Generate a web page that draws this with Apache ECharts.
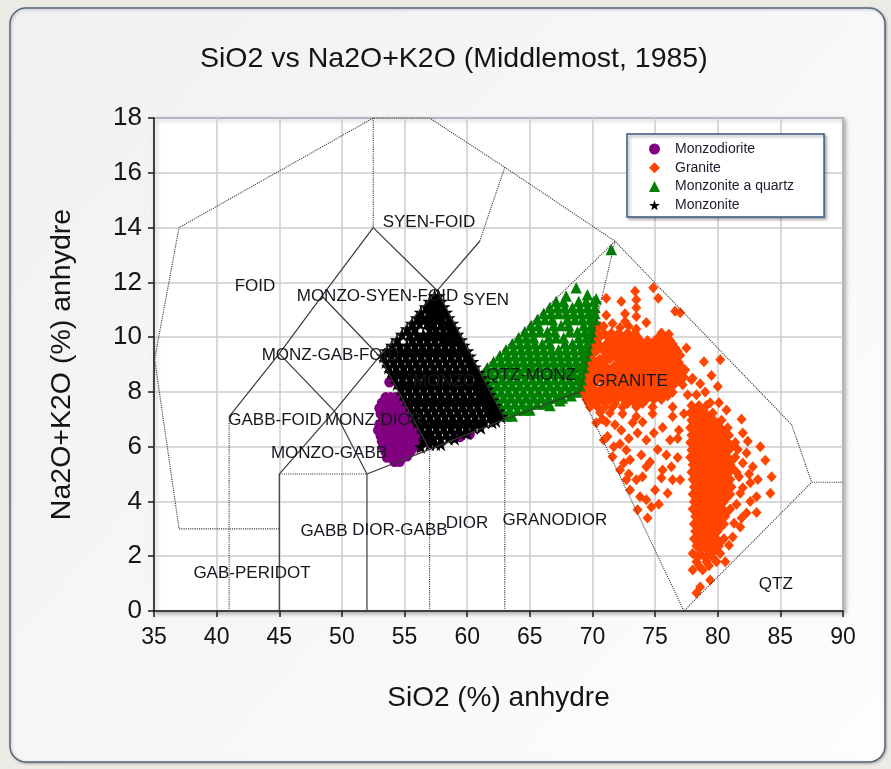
<!DOCTYPE html>
<html>
<head>
<meta charset="utf-8">
<title>TAS Middlemost 1985</title>
<script src="https://cdn.jsdelivr.net/npm/echarts/dist/echarts.min.js"></script>
<style>
  html, body { margin: 0; padding: 0; background: #ecebe5; }
  #chart { width: 891px; height: 769px; }
</style>
</head>
<body>
<div id="chart"></div>
<script>
// ---- Axis ticks ----
const xTicks = [35, 40, 45, 50, 55, 60, 65, 70, 75, 80, 85, 90];
const yTicks = [0, 2, 4, 6, 8, 10, 12, 14, 16, 18];

// ---- Field boundaries (SiO2, Na2O+K2O) ----
const dottedBoundaries = [
  [[45,3],[37,3],[35.05,9.2],[37,14],[52.5,18],[57,18],[63,16.2],[71.8,13.5],[85.9,6.8],[87.5,4.7],[90,4.7]],
  [[52.5,18],[52.5,14]],
  [[61,13.5],[63,16.2]],
  [[41,0],[41,7.1]],
  [[57,0],[57,5.9]],
  [[63,0],[63,7]],
  [[45,5],[52,5]],
  [[61,8.7],[71.8,13.5]],
  [[71.8,13.5],[69,8],[77.3,0],[87.5,4.7]]
];
const solidBoundaries = [
  [[41,7.1],[45,9.4],[48.4,11.5],[52.5,14],[57.6,11.7],[63,7]],
  [[45,5],[49.4,7.3],[53,9.3],[57.6,11.7],[61,13.5]],
  [[45,9.4],[49.4,7.3],[52,5]],
  [[48.4,11.5],[53,9.3],[57,5.9]],
  [[45,0],[45,5]],
  [[52,0],[52,5],[57,5.9],[63,7],[69,8]]
];

// ---- Field names ----
const fieldNames = ['FOID','SYEN-FOID','MONZO-SYEN-FOID','SYEN','MONZ-GAB-FOID','MONZO','QTZ-MONZ','GRANITE',
  'GABB-FOID','MONZ-DIOR','MONZO-GABB','GABB','DIOR-GABB','DIOR','GRANODIOR','GAB-PERIDOT','QTZ'];
const fieldNameX = [43.06, 56.95, 52.84, 61.5, 49.1, 58.2, 65.1, 73.0, 44.66, 52.56, 48.97, 48.57, 54.63, 59.98, 67.0, 42.82, 84.64];
const fieldNameY = [11.87, 14.18, 11.5, 11.33, 9.35, 8.4, 8.62, 8.37, 6.98, 6.98, 5.74, 2.92, 2.96, 3.2, 3.32, 1.39, 0.99];

// ---- Samples ----
const monzodiorite = [
  [53.8,8.35],
  [53.5,7.8],[53.9,7.8],[54.3,7.8],[54.7,7.75],
  [53.2,7.6],[53.6,7.6],[54.0,7.6],[54.4,7.6],[54.8,7.6],[55.1,7.55],
  [53.0,7.4],[53.4,7.4],[53.8,7.4],[54.2,7.4],[54.6,7.4],[55.0,7.4],[55.3,7.35],
  [53.1,7.2],[53.5,7.2],[53.9,7.2],[54.3,7.2],[54.7,7.2],[55.1,7.2],[55.5,7.2],
  [53.3,7.0],[53.7,7.0],[54.1,7.0],[54.5,7.0],[54.9,7.0],[55.3,7.0],[55.7,7.0],
  [53.0,6.8],[53.4,6.8],[53.8,6.8],[54.2,6.8],[54.6,6.8],[55.0,6.8],[55.4,6.8],[55.8,6.8],
  [52.9,6.6],[53.3,6.6],[53.7,6.6],[54.1,6.6],[54.5,6.6],[54.9,6.6],[55.3,6.6],[55.7,6.6],[56.0,6.6],
  [53.1,6.4],[53.5,6.4],[53.9,6.4],[54.3,6.4],[54.7,6.4],[55.1,6.4],[55.5,6.4],[55.9,6.4],[56.2,6.35],
  [53.2,6.2],[53.6,6.2],[54.0,6.2],[54.4,6.2],[54.8,6.2],[55.2,6.2],[55.6,6.2],[56.0,6.2],[56.4,6.15],
  [53.3,6.0],[53.7,6.0],[54.1,6.0],[54.5,6.0],[54.9,6.0],[55.3,6.0],[55.7,6.0],[56.1,6.0],
  [53.5,5.8],[53.9,5.8],[54.3,5.8],[54.7,5.8],[55.1,5.8],[55.5,5.85],
  [53.6,5.6],[54.0,5.6],[54.4,5.6],[54.8,5.6],[55.2,5.65],
  [54.2,5.45],[54.6,5.45],
  [59.4,6.35],[60.2,6.45]
];

const granite = [
  [71.1,11.42],[72.3,11.3],[73.4,11.67],[73.5,11.36],[74.85,11.8],[75.25,11.42],[73.5,11.07],[72.6,10.85],
  [71.1,10.8],[72.6,10.57],[74.3,10.53],[73.5,10.75],[76.6,10.94],[77.0,10.89],[70.6,10.4],[71.6,10.5],[73.5,10.3],
  [70.3,10.45],[70.9,10.4],[72.2,10.35],[72.9,10.4],
  [70.3,10.15],[70.9,10.15],[71.5,10.15],[72.1,10.15],[72.8,10.15],[73.4,10.15],[75.5,10.15],[76.1,10.1],
  [70.6,10.0],[71.2,10.0],[71.8,10.0],[72.4,10.0],[73.0,10.0],[73.6,10.0],[75.3,10.0],[75.9,10.0],
  [70.2,9.88],[71.4,9.88],[72.0,9.88],[72.6,9.88],[73.2,9.88],[73.8,9.88],[74.4,9.88],[75.0,9.88],[75.6,9.88],[76.2,9.88],
  [70.5,9.75],[71.1,9.75],[71.7,9.75],[72.3,9.75],[72.9,9.75],[73.5,9.75],[74.1,9.75],[74.7,9.75],[75.3,9.75],[75.9,9.75],[76.4,9.75],
  [70.0,9.61],[70.6,9.61],[71.2,9.61],[71.8,9.61],[72.4,9.61],[73.0,9.61],[73.6,9.61],[74.2,9.61],[74.8,9.61],[75.4,9.61],[76.0,9.61],[76.6,9.61],
  [70.3,9.48],[70.9,9.48],[71.5,9.48],[72.1,9.48],[72.7,9.48],[73.3,9.48],[73.9,9.48],[74.5,9.48],[75.1,9.48],[75.7,9.48],[76.3,9.48],[76.8,9.48],
  [69.9,9.34],[71.1,9.34],[71.7,9.34],[72.3,9.34],[72.9,9.34],[73.5,9.34],[74.1,9.34],[74.7,9.34],[75.3,9.34],[75.9,9.34],[76.5,9.34],[77.0,9.34],
  [70.0,9.2],[70.6,9.2],[71.4,9.2],[72.0,9.2],[72.6,9.2],[73.2,9.2],[73.8,9.2],[74.4,9.2],[75.0,9.2],[75.6,9.2],[76.2,9.2],[76.7,9.2],
  [69.7,9.07],[70.3,9.07],[70.9,9.07],[72.1,9.07],[72.7,9.07],[73.3,9.07],[73.9,9.07],[74.5,9.07],[75.1,9.07],[75.7,9.07],[76.3,9.07],[76.9,9.07],
  [70.0,8.93],[70.5,8.93],[71.1,8.93],[71.7,8.93],[72.3,8.93],[72.9,8.93],[73.5,8.93],[74.1,8.93],[74.7,8.93],[75.3,8.93],[75.9,8.93],[76.5,8.93],[77.1,8.93],
  [69.6,8.8],[70.2,8.8],[70.8,8.8],[71.4,8.8],[72.0,8.8],[72.6,8.8],[73.2,8.8],[73.8,8.8],[74.4,8.8],[75.0,8.8],[75.6,8.8],[76.2,8.8],[76.8,8.8],[77.4,8.8],
  [69.9,8.66],[70.5,8.66],[71.1,8.66],[71.7,8.66],[72.3,8.66],[72.9,8.66],[73.5,8.66],[74.1,8.66],[74.7,8.66],[75.3,8.66],[75.9,8.66],[76.5,8.66],[77.0,8.66],
  [69.4,8.53],[70.0,8.53],[70.6,8.53],[71.2,8.53],[71.8,8.53],[72.4,8.53],[73.0,8.53],[73.6,8.53],[74.2,8.53],[74.8,8.53],[75.4,8.53],[76.0,8.53],[76.6,8.53],[77.3,8.53],[78.0,8.5],
  [69.6,8.4],[70.3,8.4],[70.9,8.4],[71.4,8.4],[72.0,8.4],[72.6,8.4],[73.2,8.4],[73.8,8.4],[74.4,8.4],[75.0,8.4],[75.6,8.4],[76.2,8.4],[76.8,8.4],
  [69.3,8.26],[69.9,8.26],[71.1,8.26],[71.7,8.26],[72.3,8.26],[72.9,8.26],[73.5,8.26],[74.1,8.26],[74.7,8.26],[75.3,8.26],[75.9,8.26],[76.5,8.26],[77.2,8.26],
  [69.5,8.12],[70.1,8.12],[70.7,8.12],[71.3,8.12],[71.9,8.12],[72.5,8.12],[73.1,8.12],[73.7,8.12],[74.3,8.12],[74.9,8.12],[75.5,8.12],[76.1,8.12],
  [69.2,7.99],[69.8,7.99],[70.4,7.99],[71.0,7.99],[71.6,7.99],[72.2,7.99],[72.8,7.99],[73.4,7.99],[74.0,7.99],[74.6,7.99],[75.2,7.99],[75.8,7.99],[76.4,7.99],
  [69.5,7.85],[70.1,7.85],[70.7,7.85],[71.3,7.85],[71.9,7.85],[72.5,7.85],[73.1,7.85],[73.7,7.85],[74.3,7.85],[74.9,7.85],[75.5,7.85],[76.0,7.85],
  [69.5,7.72],[70.1,7.72],[70.7,7.72],[71.3,7.72],[71.9,7.72],[72.5,7.72],[73.1,7.72],[73.7,7.72],[74.3,7.72],[74.9,7.72],[75.5,7.72],
  [69.7,7.58],[70.3,7.58],[71.0,7.58],[71.8,7.58],[72.8,7.58],[73.4,7.58],[74.0,7.58],
  [69.8,7.45],[70.4,7.45],[71.0,7.45],[71.6,7.45],[72.4,7.45],[73.5,7.45],[74.8,7.45],[76.4,7.45],
  [76.05,9.96],[75.6,10.08],[76.7,9.46],[77.5,9.6],[77.9,8.44],[78.6,8.3],[77.6,7.9],[78.3,7.9],[79.0,8.0],[79.5,8.6],
  [78.9,9.1],[80.2,9.17],[80.0,8.2],[79.4,7.6],[80.1,7.6],[80.7,7.34],[77.3,7.2],
  [70.8,7.0],[72.4,7.2],[73.5,7.1],[74.8,7.2],[75.6,6.7],[76.4,7.1],[71.2,6.37],[72.2,6.1],[74.3,6.24],[76.2,6.24],
  [71.6,5.63],[73.0,5.52],[74.6,5.44],[76.3,5.27],[72.7,4.79],[74.0,4.9],[75.5,4.86],[77.0,4.79],[73.8,4.17],[75.0,4.42],
  [74.7,3.8],[73.6,3.7],[71.4,7.23],[70.3,6.87],[73.2,6.87],[70.9,6.24],[72.7,5.88],[76.8,6.3],[72.2,5.15],[73.5,4.79],
  [74.3,5.27],[75.6,5.15],[76.4,4.79],[73.0,4.42],[74.3,4.06],[70.6,7.25],[71.1,6.9],[71.8,6.8],[72.3,6.6],[72.9,6.3],
  [73.6,6.5],[74.0,6.9],[74.9,6.5],[75.2,5.9],[73.9,5.7],[72.5,5.4],[75.9,5.7],[76.8,5.6],[76.9,6.6],[76.0,4.3],
  [74.4,3.4],[75.3,3.9],[72.9,5.0],[71.7,6.0],
  [77.9,7.5],[78.5,7.5],[79.1,7.5],
  [78.2,7.36],[78.8,7.36],
  [77.8,7.23],[78.4,7.23],[79.0,7.23],[79.6,7.23],
  [78.1,7.1],[78.7,7.1],[79.3,7.1],
  [77.9,6.96],[78.5,6.96],[79.1,6.96],[79.7,6.96],[80.3,6.96],
  [78.2,6.83],[78.8,6.83],[79.4,6.83],[80.0,6.83],
  [77.8,6.69],[78.4,6.69],[79.0,6.69],[79.6,6.69],[80.2,6.69],[80.8,6.69],
  [78.1,6.56],[78.7,6.56],[79.3,6.56],[79.9,6.56],[80.5,6.56],
  [77.9,6.42],[78.5,6.42],[79.1,6.42],[79.7,6.42],[80.3,6.42],[80.9,6.42],
  [78.2,6.29],[78.8,6.29],[79.4,6.29],[80.0,6.29],[80.6,6.29],
  [77.8,6.15],[78.4,6.15],[79.0,6.15],[79.6,6.15],[80.2,6.15],[80.8,6.15],[81.4,6.15],
  [78.1,6.02],[78.7,6.02],[79.3,6.02],[79.9,6.02],[80.5,6.02],[81.1,6.02],
  [77.9,5.88],[78.5,5.88],[79.1,5.88],[79.7,5.88],[80.3,5.88],[80.9,5.88],
  [78.2,5.75],[78.8,5.75],[79.4,5.75],[80.0,5.75],[80.6,5.75],
  [77.8,5.61],[78.4,5.61],[79.0,5.61],[79.6,5.61],[80.2,5.61],[80.8,5.61],[81.4,5.61],
  [78.1,5.48],[78.7,5.48],[79.3,5.48],[79.9,5.48],[80.5,5.48],[81.1,5.48],
  [78.0,5.34],[78.6,5.34],[79.2,5.34],[79.8,5.34],[80.4,5.34],[81.0,5.34],
  [78.2,5.2],[78.8,5.2],[79.4,5.2],[80.0,5.2],[80.6,5.2],[81.2,5.2],
  [77.9,5.07],[78.5,5.07],[79.1,5.07],[79.7,5.07],[80.3,5.07],[80.9,5.07],[81.5,5.07],
  [78.3,4.93],[78.9,4.93],[79.5,4.93],[80.1,4.93],[80.7,4.93],
  [78.0,4.8],[78.6,4.8],[79.2,4.8],[79.8,4.8],[80.4,4.8],[81.0,4.8],
  [78.3,4.66],[78.9,4.66],[79.5,4.66],[80.1,4.66],[80.7,4.66],
  [78.1,4.53],[78.7,4.53],[79.3,4.53],[79.9,4.53],[80.5,4.53],[81.1,4.53],
  [78.3,4.4],[78.9,4.4],[79.5,4.4],[80.1,4.4],[80.7,4.4],
  [78.0,4.26],[78.6,4.26],[79.2,4.26],[79.8,4.26],[80.4,4.26],[81.0,4.26],
  [78.3,4.13],[78.9,4.13],[79.5,4.13],[80.1,4.13],[80.7,4.13],
  [78.1,3.99],[78.7,3.99],[79.3,3.99],[79.9,3.99],[80.5,3.99],
  [78.4,3.86],[79.0,3.86],[79.6,3.86],[80.2,3.86],
  [78.0,3.72],[78.6,3.72],[79.2,3.72],[79.8,3.72],[80.4,3.72],[81.0,3.72],
  [78.3,3.59],[78.9,3.59],[79.5,3.59],[80.1,3.59],[80.7,3.59],
  [78.2,3.45],[78.8,3.45],[79.4,3.45],[80.0,3.45],[80.6,3.45],
  [78.4,3.32],[79.0,3.32],[79.6,3.32],[80.2,3.32],
  [78.1,3.18],[78.7,3.18],[79.3,3.18],[79.9,3.18],[80.5,3.18],
  [78.4,3.05],[79.0,3.05],[79.6,3.05],[80.2,3.05],
  [78.2,2.91],[78.8,2.91],[79.4,2.91],[80.0,2.91],
  [78.5,2.78],[79.1,2.78],[79.7,2.78],
  [78.1,2.64],[78.7,2.64],[79.3,2.64],[79.9,2.64],[80.5,2.64],
  [78.4,2.5],[79.0,2.5],[79.6,2.5],[80.2,2.5],
  [78.3,2.37],[78.9,2.37],[79.5,2.37],[80.1,2.37],
  [78.6,2.23],[79.2,2.23],[79.8,2.23],
  [78.0,2.1],[78.6,2.1],[79.3,2.1],[80.2,2.1],
  [78.4,1.95],[79.0,1.95],[79.6,1.95],
  [78.3,1.8],[79.1,1.8],[79.9,1.8],[80.6,1.8],
  [78.5,1.65],[79.3,1.65],
  [78.0,1.5],[78.8,1.5],[79.4,1.13],[78.6,0.88],[78.3,0.66],
  [81.9,7.0],[82.0,6.5],[82.4,6.2],[81.6,5.9],[82.3,5.77],[82.0,5.4],[82.8,5.27],[81.7,4.9],[82.5,5.0],[83.2,4.8],
  [82.6,4.68],[82.0,4.5],[81.8,4.3],[83.1,4.17],[81.5,3.9],[82.6,4.0],[81.9,3.4],[82.3,3.58],[81.3,3.2],[81.8,3.07],
  [81.2,2.7],[80.9,2.4],[83.4,6.0],[83.8,5.5],[84.3,4.9],[84.2,4.3],[83.1,3.6]
];

const monzoniteQuartz = [
  [71.5,13.2],
  [67.9,11.5],[68.7,11.8],[69.6,11.55],[70.3,11.4],
  [67.1,11.3],[67.7,11.3],[68.9,11.3],[69.5,11.3],[70.1,11.3],
  [66.6,11.08],[67.2,11.08],[67.8,11.08],[68.4,11.08],[69.0,11.08],[69.6,11.08],[70.2,11.08],
  [66.1,10.86],[66.7,10.86],[67.3,10.86],[67.9,10.86],[68.5,10.86],[69.1,10.86],[69.7,10.86],[70.2,10.86],
  [65.6,10.64],[66.2,10.64],[66.8,10.64],[68.0,10.64],[68.6,10.64],[69.2,10.64],[69.8,10.64],[70.2,10.64],
  [65.1,10.42],[65.7,10.42],[66.9,10.42],[67.5,10.42],[68.1,10.42],[69.3,10.42],[69.9,10.42],
  [64.6,10.2],[65.2,10.2],[65.8,10.2],[66.4,10.2],[67.0,10.2],[68.2,10.2],[68.8,10.2],[69.4,10.2],[69.9,10.2],
  [64.1,9.98],[64.7,9.98],[65.3,9.98],[66.5,9.98],[67.1,9.98],[67.7,9.98],[68.9,9.98],[69.5,9.98],[69.85,9.98],
  [63.6,9.76],[64.2,9.76],[64.8,9.76],[65.4,9.76],[66.0,9.76],[66.6,9.76],[67.8,9.76],[68.4,9.76],[69.0,9.76],[69.6,9.76],
  [63.1,9.54],[63.7,9.54],[64.3,9.54],[64.9,9.54],[65.5,9.54],[66.1,9.54],[66.7,9.54],[67.3,9.54],[67.9,9.54],[68.5,9.54],[69.1,9.54],[69.6,9.54],
  [62.6,9.32],[63.2,9.32],[63.8,9.32],[64.4,9.32],[65.0,9.32],[65.6,9.32],[66.2,9.32],[66.8,9.32],[67.4,9.32],[68.0,9.32],[68.6,9.32],[69.2,9.32],[69.5,9.32],
  [62.1,9.1],[62.7,9.1],[63.3,9.1],[63.9,9.1],[64.5,9.1],[65.1,9.1],[65.7,9.1],[66.3,9.1],[66.9,9.1],[67.5,9.1],[68.1,9.1],[68.7,9.1],[69.3,9.1],
  [61.6,8.88],[62.2,8.88],[62.8,8.88],[63.4,8.88],[64.0,8.88],[64.6,8.88],[65.2,8.88],[65.8,8.88],[66.4,8.88],[67.0,8.88],[67.6,8.88],[68.2,8.88],[68.8,8.88],[69.3,8.88],
  [61.3,8.66],[61.9,8.66],[62.5,8.66],[63.1,8.66],[63.7,8.66],[64.3,8.66],[64.9,8.66],[65.5,8.66],[66.1,8.66],[66.7,8.66],[67.3,8.66],[67.9,8.66],[68.5,8.66],[69.1,8.66],
  [61.6,8.44],[62.2,8.44],[62.8,8.44],[63.4,8.44],[64.0,8.44],[64.6,8.44],[65.2,8.44],[65.8,8.44],[66.4,8.44],[67.0,8.44],[67.6,8.44],[68.2,8.44],[68.8,8.44],[69.1,8.44],
  [61.8,8.22],[62.4,8.22],[63.0,8.22],[63.6,8.22],[64.2,8.22],[64.8,8.22],[65.4,8.22],[66.0,8.22],[66.6,8.22],[67.2,8.22],[67.8,8.22],[68.4,8.22],[69.0,8.22],
  [62.1,8.0],[62.7,8.0],[63.3,8.0],[63.9,8.0],[64.5,8.0],[65.1,8.0],[65.7,8.0],[66.3,8.0],[66.9,8.0],[67.5,8.0],[68.1,8.0],[68.7,8.0],
  [62.3,7.78],[62.9,7.78],[63.5,7.78],[64.1,7.78],[64.7,7.78],[65.3,7.78],[65.9,7.78],[66.5,7.78],[67.1,7.78],[67.6,7.78],
  [62.6,7.56],[63.2,7.56],[63.8,7.56],[64.4,7.56],[65.0,7.56],[65.6,7.56],[66.2,7.56],
  [62.8,7.34],[63.4,7.34],[64.0,7.34],[64.6,7.34],[65.0,7.34],
  [63.1,7.12],[63.6,7.12],
  [66.6,7.5],[67.4,7.68],[68.3,7.86]
];

const monzonite = [
  [57.4,11.5],[57.7,11.5],
  [57.0,11.3],[57.5,11.3],[57.9,11.3],
  [56.7,11.1],[57.2,11.1],[57.6,11.1],[58.1,11.1],
  [56.3,10.9],[56.9,10.9],[57.3,10.9],[57.8,10.9],[58.3,10.9],
  [56.0,10.7],[56.5,10.7],[57.1,10.7],[57.6,10.7],[58.0,10.7],[58.5,10.7],
  [55.6,10.5],[56.2,10.5],[56.8,10.5],[57.3,10.5],[57.9,10.5],[58.4,10.5],[58.8,10.5],
  [55.2,10.3],[55.8,10.3],[57.0,10.3],[57.5,10.3],[58.1,10.3],[58.6,10.3],[59.0,10.3],
  [54.8,10.1],[55.4,10.1],[56.0,10.1],[56.5,10.1],[57.1,10.1],[57.7,10.1],[58.2,10.1],[58.8,10.1],[59.2,10.1],
  [54.4,9.9],[55.6,9.9],[56.2,9.9],[56.8,9.9],[57.4,9.9],[58.0,9.9],[58.5,9.9],[59.1,9.9],[59.5,9.9],
  [54.0,9.7],[54.6,9.7],[55.2,9.7],[55.8,9.7],[56.4,9.7],[57.0,9.7],[57.6,9.7],[58.2,9.7],[58.8,9.7],[59.4,9.7],[59.7,9.7],
  [53.6,9.5],[54.2,9.5],[54.8,9.5],[55.4,9.5],[56.0,9.5],[56.6,9.5],[57.2,9.5],[57.8,9.5],[58.4,9.5],[59.0,9.5],[59.6,9.5],[60.0,9.5],
  [53.3,9.3],[53.9,9.3],[54.5,9.3],[55.1,9.3],[55.7,9.3],[56.3,9.3],[56.9,9.3],[57.5,9.3],[58.1,9.3],[58.7,9.3],[59.3,9.3],[59.9,9.3],[60.2,9.3],
  [53.5,9.1],[54.1,9.1],[54.7,9.1],[55.3,9.1],[55.9,9.1],[56.5,9.1],[57.1,9.1],[57.7,9.1],[58.3,9.1],[58.9,9.1],[59.5,9.1],[60.1,9.1],[60.4,9.1],
  [53.7,8.9],[54.3,8.9],[54.9,8.9],[55.5,8.9],[56.1,8.9],[56.7,8.9],[57.3,8.9],[57.9,8.9],[58.5,8.9],[59.1,8.9],[59.7,8.9],[60.3,8.9],[60.6,8.9],
  [53.9,8.7],[54.5,8.7],[55.1,8.7],[55.7,8.7],[56.3,8.7],[56.9,8.7],[57.5,8.7],[58.1,8.7],[58.7,8.7],[59.3,8.7],[59.9,8.7],[60.5,8.7],[60.9,8.7],
  [54.2,8.5],[54.8,8.5],[55.4,8.5],[56.0,8.5],[56.6,8.5],[57.2,8.5],[57.8,8.5],[58.4,8.5],[59.0,8.5],[59.6,8.5],[60.2,8.5],[60.8,8.5],[61.1,8.5],
  [54.4,8.3],[55.0,8.3],[55.6,8.3],[56.2,8.3],[56.8,8.3],[57.4,8.3],[58.0,8.3],[58.6,8.3],[59.2,8.3],[59.8,8.3],[60.4,8.3],[61.0,8.3],[61.3,8.3],
  [54.7,8.1],[55.3,8.1],[55.9,8.1],[56.5,8.1],[57.1,8.1],[57.7,8.1],[58.3,8.1],[58.9,8.1],[59.5,8.1],[60.1,8.1],[60.7,8.1],[61.2,8.1],[61.6,8.1],
  [54.9,7.9],[55.5,7.9],[56.1,7.9],[56.7,7.9],[57.3,7.9],[57.9,7.9],[58.5,7.9],[59.1,7.9],[59.7,7.9],[60.3,7.9],[60.9,7.9],[61.4,7.9],[61.8,7.9],
  [55.1,7.7],[55.7,7.7],[56.3,7.7],[56.9,7.7],[57.5,7.7],[58.1,7.7],[58.7,7.7],[59.3,7.7],[59.9,7.7],[60.5,7.7],[61.1,7.7],[61.6,7.7],[62.0,7.7],
  [55.4,7.5],[56.0,7.5],[56.6,7.5],[57.2,7.5],[57.8,7.5],[58.4,7.5],[59.0,7.5],[59.6,7.5],[60.2,7.5],[60.8,7.5],[61.4,7.5],[61.9,7.5],[62.2,7.5],
  [55.6,7.3],[56.2,7.3],[56.8,7.3],[57.4,7.3],[58.0,7.3],[58.6,7.3],[59.2,7.3],[59.8,7.3],[60.4,7.3],[61.0,7.3],[61.6,7.3],[62.1,7.3],[62.5,7.3],
  [55.8,7.1],[56.4,7.1],[57.0,7.1],[57.6,7.1],[58.2,7.1],[58.8,7.1],[59.4,7.1],[60.0,7.1],[60.6,7.1],[61.2,7.1],[61.8,7.1],[62.3,7.1],[62.7,7.1],
  [56.0,6.9],[56.6,6.9],[57.2,6.9],[57.8,6.9],[58.4,6.9],[59.0,6.9],[59.6,6.9],[60.2,6.9],[60.8,6.9],[61.4,6.9],[62.0,6.9],[62.3,6.95],
  [56.3,6.7],[56.9,6.7],[57.5,6.7],[58.1,6.7],[58.7,6.7],[59.3,6.7],[59.9,6.7],[60.5,6.7],[61.1,6.7],
  [56.5,6.5],[57.1,6.5],[57.7,6.5],[58.3,6.5],[58.9,6.5],[59.5,6.5],[60.0,6.5],
  [56.8,6.3],[57.3,6.3],[57.9,6.3],[58.5,6.3],[59.0,6.3],
  [57.0,6.1],[57.5,6.1],[57.9,6.1],
  [56.3,6.0],[56.6,6.2]
];

// ---- Styling ----
const FONT = "'Liberation Sans', Arial, sans-serif";
const TEXT = '#141414';
const starPath = 'path://M50,0 L61,35 L98,35 L68,57 L79,91 L50,70 L21,91 L32,57 L2,35 L39,35 Z';

const chart = echarts.init(document.getElementById('chart'), null, { renderer: 'canvas' });

const boundarySeries = [];
dottedBoundaries.forEach(function (pts) {
  boundarySeries.push({
    type: 'line', data: pts, symbol: 'none', silent: true, z: 5, animation: false,
    lineStyle: { color: '#333333', width: 1.1, type: 'dotted', opacity: 1 }
  });
});
solidBoundaries.forEach(function (pts) {
  boundarySeries.push({
    type: 'line', data: pts, symbol: 'none', silent: true, z: 5, animation: false,
    lineStyle: { color: '#3a3a3a', width: 1.2, type: 'solid', opacity: 1 }
  });
});

const labelData = fieldNames.map(function (n, i) {
  return { name: n, value: [fieldNameX[i], fieldNameY[i]] };
});

const option = {
  animation: false,
  backgroundColor: '#ecebe5',
  graphic: [{
    type: 'rect', z: -10,
    shape: { x: 10, y: 8, width: 875, height: 754, r: 16 },
    style: {
      fill: new echarts.graphic.LinearGradient(0, 0, 1, 1, [
        { offset: 0, color: '#f1f1f1' }, { offset: 1, color: '#fdfdfd' }
      ]),
      stroke: '#56657d', lineWidth: 1.5,
      shadowColor: 'rgba(0,0,0,0.25)', shadowBlur: 3, shadowOffsetX: 1, shadowOffsetY: 1
    }
  }],
  title: {
    text: 'SiO2 vs Na2O+K2O (Middlemost, 1985)',
    left: 200, top: 45, padding: 0,
    textStyle: { fontFamily: FONT, fontSize: 28.5, fontWeight: 'normal', color: TEXT }
  },
  legend: {
    data: ['Monzodiorite', 'Granite', 'Monzonite a quartz', 'Monzonite'],
    orient: 'vertical', left: 627, top: 134,
    itemWidth: 11, itemHeight: 11, itemGap: 4.7,
    padding: [8, 30, 5, 22],
    backgroundColor: '#ffffff', borderColor: '#3b5683', borderWidth: 1.5,
    shadowColor: 'rgba(0,0,0,0.35)', shadowBlur: 3, shadowOffsetX: 2, shadowOffsetY: 2,
    textStyle: { fontFamily: FONT, fontSize: 14, color: '#1c1c2c', lineHeight: 14, padding: [0, 0, 0, 10] }
  },
  grid: {
    left: 154, top: 118, width: 689, height: 493,
    show: true, backgroundColor: '#ffffff', borderColor: '#3a5586', borderWidth: 1.5,
    shadowColor: 'rgba(0,0,0,0.3)', shadowBlur: 4, shadowOffsetX: 2, shadowOffsetY: 2,
    containLabel: false, outerBoundsMode: 'none'
  },
  xAxis: {
    type: 'value', min: xTicks[0], max: xTicks[xTicks.length - 1], interval: 5,
    name: 'SiO2 (%) anhydre', nameLocation: 'middle', nameGap: 73,
    nameTextStyle: { fontFamily: FONT, fontSize: 28, color: TEXT },
    axisLine: { show: true, onZero: false, lineStyle: { color: '#1a1a1a', width: 1.5 } },
    axisTick: { show: true, length: 6, lineStyle: { color: '#1a1a1a', width: 1.5 } },
    axisLabel: { fontFamily: FONT, fontSize: 23, color: TEXT, margin: 15 },
    splitLine: { show: true, lineStyle: { color: '#cdcdcd', width: 1.5 } }
  },
  yAxis: {
    type: 'value', min: yTicks[0], max: yTicks[yTicks.length - 1], interval: 2,
    name: 'Na2O+K2O (%) anhydre', nameLocation: 'middle', nameGap: 77,
    nameTextStyle: { fontFamily: FONT, fontSize: 28.5, color: TEXT },
    axisLine: { show: true, onZero: false, lineStyle: { color: '#1a1a1a', width: 1.5 } },
    axisTick: { show: true, length: 6, lineStyle: { color: '#1a1a1a', width: 1.5 } },
    axisLabel: { fontFamily: FONT, fontSize: 26, color: TEXT, margin: 12 },
    splitLine: { show: true, lineStyle: { color: '#cdcdcd', width: 1.5 } }
  },
  series: [
    { name: 'Monzodiorite', type: 'scatter', data: monzodiorite, symbol: 'circle', symbolSize: 10.5,
      itemStyle: { color: '#800080', opacity: 1 }, z: 2 },
    { name: 'Granite', type: 'scatter', data: granite, symbol: 'diamond', symbolSize: [10, 11],
      itemStyle: { color: '#ff4500', opacity: 1 }, z: 2 },
    { name: 'Monzonite a quartz', type: 'scatter', data: monzoniteQuartz, symbol: 'triangle', symbolSize: 11.5,
      itemStyle: { color: '#008000', opacity: 1 }, z: 2 },
    { name: 'Monzonite', type: 'scatter', data: monzonite, symbol: starPath, symbolSize: 14.5,
      itemStyle: { color: '#000000', opacity: 1 }, z: 2 }
  ].concat(boundarySeries).concat([{
    type: 'scatter', data: labelData, symbolSize: 0, silent: true, z: 8,
    itemStyle: { opacity: 1 },
    label: { show: true, position: 'inside', formatter: '{b}', fontFamily: FONT, fontSize: 17,
      color: '#16161e', opacity: 1, textBorderWidth: 0 }
  }])
};

chart.setOption(option);
</script>
</body>
</html>
